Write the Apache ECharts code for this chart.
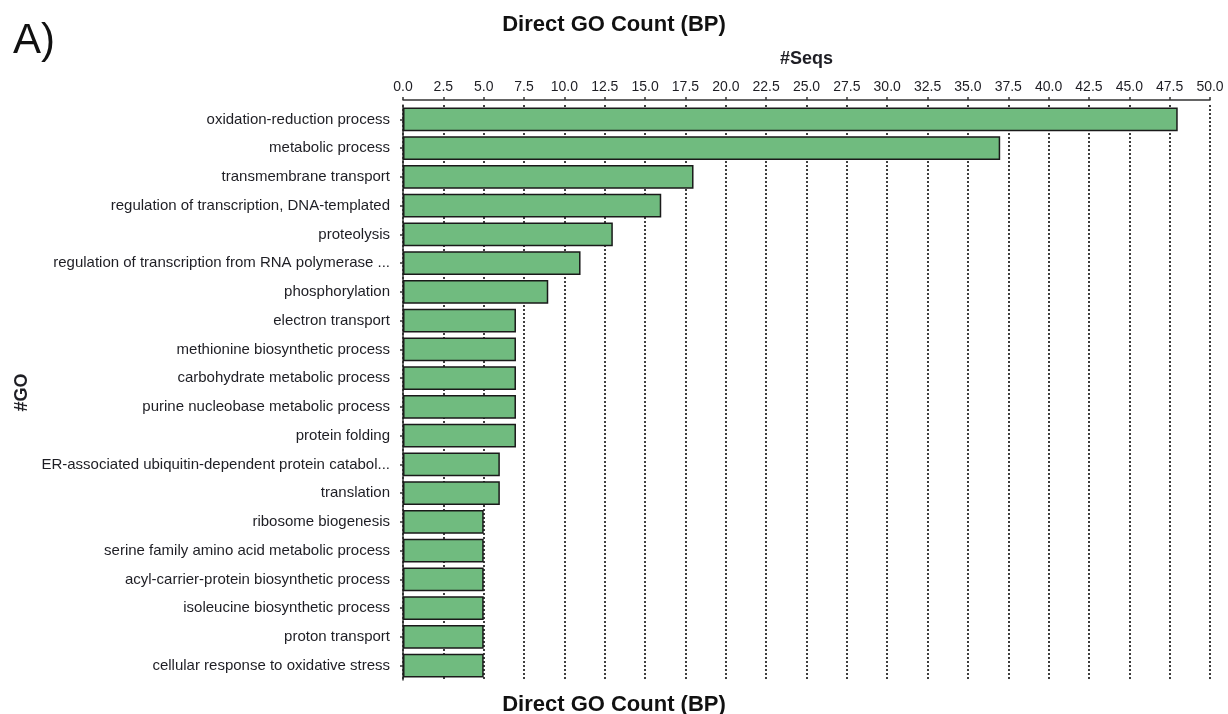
<!DOCTYPE html>
<html>
<head>
<meta charset="utf-8">
<title>Direct GO Count (BP)</title>
<script src="https://cdn.jsdelivr.net/npm/echarts@6/dist/echarts.min.js"></script>
<style>
  html, body { margin: 0; padding: 0; background: #fff; }
  #chart { width: 1228px; height: 714px; }
</style>
</head>
<body>
<div id="chart"></div>
<script>
// GO biological process terms, listed top to bottom
const goTerms = [
  'oxidation-reduction process',
  'metabolic process',
  'transmembrane transport',
  'regulation of transcription, DNA-templated',
  'proteolysis',
  'regulation of transcription from RNA polymerase ...',
  'phosphorylation',
  'electron transport',
  'methionine biosynthetic process',
  'carbohydrate metabolic process',
  'purine nucleobase metabolic process',
  'protein folding',
  'ER-associated ubiquitin-dependent protein catabol...',
  'translation',
  'ribosome biogenesis',
  'serine family amino acid metabolic process',
  'acyl-carrier-protein biosynthetic process',
  'isoleucine biosynthetic process',
  'proton transport',
  'cellular response to oxidative stress'
];

// number of sequences annotated with each term
const seqCounts = [48, 37, 18, 16, 13, 11, 9, 7, 7, 7, 7, 7, 6, 6, 5, 5, 5, 5, 5, 5];

// value axis range and step
const seqAxisMin = 0;
const seqAxisMax = 50;
const seqAxisStep = 2.5;

const FONT = "'Liberation Sans', Arial, sans-serif";
const INK = '#1e1e24';

const chart = echarts.init(document.getElementById('chart'), null, { renderer: 'canvas' });

chart.setOption({
  backgroundColor: '#ffffff',
  animation: false,
  title: [
    {
      text: 'A)',
      left: 8,
      top: 15,
      textStyle: { fontFamily: FONT, fontSize: 42, fontWeight: 'normal', color: '#111' }
    },
    {
      text: 'Direct GO Count (BP)',
      left: 'center',
      top: 9,
      textStyle: { fontFamily: FONT, fontSize: 22, fontWeight: 'bold', color: '#111' }
    },
    {
      text: 'Direct GO Count (BP)',
      left: 'center',
      top: 689,
      textStyle: { fontFamily: FONT, fontSize: 22, fontWeight: 'bold', color: '#111' }
    }
  ],
  grid: {
    left: 403,
    right: 18,
    top: 105,
    bottom: 34,
    containLabel: false
  },
  xAxis: {
    type: 'value',
    position: 'top',
    min: seqAxisMin,
    max: seqAxisMax,
    interval: seqAxisStep,
    offset: 5,
    name: '#Seqs',
    nameLocation: 'middle',
    nameGap: 32,
    nameTextStyle: { fontFamily: FONT, fontSize: 18, fontWeight: 'bold', color: INK },
    axisLine: { show: true, lineStyle: { color: '#333', width: 1.5 } },
    axisTick: { show: true, length: 3, lineStyle: { color: '#333', width: 1.5 } },
    axisLabel: {
      fontFamily: FONT,
      fontSize: 14,
      color: INK,
      margin: 6,
      formatter: v => v.toFixed(1)
    },
    splitLine: {
      show: true,
      lineStyle: { color: '#2a2a2a', width: 1.8, type: [2, 2] }
    }
  },
  yAxis: {
    type: 'category',
    data: goTerms,
    inverse: true,
    offset: 7,
    name: '#GO',
    nameLocation: 'middle',
    nameRotate: 90,
    nameGap: 363,
    nameTextStyle: { fontFamily: FONT, fontSize: 18, fontWeight: 'bold', color: INK },
    axisLine: { show: true, lineStyle: { color: '#333', width: 1.5 } },
    axisTick: { show: true, length: 3, alignWithLabel: true, lineStyle: { color: '#333', width: 1.5 } },
    axisLabel: {
      fontFamily: FONT,
      fontSize: 15,
      color: INK,
      margin: 6,
      interval: 0
    },
    splitLine: { show: false }
  },
  series: [
    {
      type: 'bar',
      data: seqCounts,
      barCategoryGap: '17%',
      itemStyle: {
        color: '#70bb7f',
        borderColor: '#1a1a1a',
        borderWidth: 1.5
      },
      z: 3
    }
  ]
});
</script>
</body>
</html>
